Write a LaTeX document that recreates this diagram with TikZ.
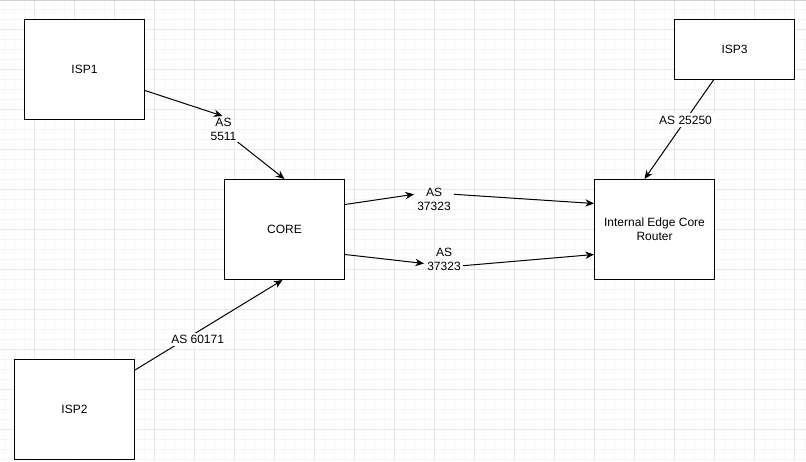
\documentclass[tikz,border=0pt]{standalone}
\usepackage{fontspec}
\setmainfont{Liberation Sans}
\usetikzlibrary{arrows.meta,calc}

\definecolor{gridmajor}{HTML}{E8E8E8}
\definecolor{gridminor}{HTML}{F7F7F7}

\begin{document}
\begin{tikzpicture}[
      x=0.75pt, y=-0.75pt,
      font=\fontsize{9}{10.5}\selectfont,
      box/.style={draw, line width=0.75pt, fill=white, align=center,
        minimum width=90pt, minimum height=75pt, inner sep=2pt},
      smallbox/.style={box, minimum height=45pt},
      aslab/.style={align=center, inner sep=1.5pt},
      edgelab/.style={fill=white, inner sep=2pt},
      arr/.style={-{Stealth[length=6.5pt, width=5.5pt, inset=2pt]}, line width=0.75pt},
    ]
    \useasboundingbox (0,0) rectangle (806,461);
    \fill[white] (0,0) rectangle (806,461);

    % drawing-sheet grid
    \foreach \gx in {4.5,14.5,...,804.5} \draw[gridminor, line width=0.75pt] (\gx,0) -- (\gx,461);
    \foreach \gy in {9.5,19.5,...,459.5} \draw[gridminor, line width=0.75pt] (0,\gy) -- (806,\gy);
    \foreach \gx in {34.5,74.5,...,794.5} \draw[gridmajor, line width=0.75pt] (\gx,0) -- (\gx,461);
    \foreach \gy in {29.5,69.5,...,429.5} \draw[gridmajor, line width=0.75pt] (0,\gy) -- (806,\gy);
    \draw[black!18, line width=0.75pt] (0,0.5) -- (806,0.5);

    \node[box] (isp1) at (84.5,69.5) {ISP1};
    \node[box] (isp2) at (74.5,409.5) {ISP2};
    \node[smallbox] (isp3) at (734.5,49.5) {ISP3};
    \node[box] (core) at (284.5,229.5) {CORE};
    \node[box] (router) at (654.5,229.5) {Internal Edge Core\\Router};

    \node[aslab] (as5511) at (223.5,129.5) {AS\\5511};
    \node[aslab] (asupper) at (434,199.7) {AS\\37323};
    \node[aslab] (aslower) at (444,259) {AS\\37323};

    \draw[arr] ($(isp1.east)+(0,21)$) -- ($(as5511.north)+(-1,0)$);
    \draw[arr] ($(as5511.south east)+(-1,-1)$) -- (core.north);
    \draw[arr] ($(core.east)+(0,-25)$) -- ($(asupper.west)+(-1,-5.4)$);
    \draw[arr] ($(asupper.east)+(1,-5.4)$) -- ($(router.west)+(0,-26)$);
    \draw[arr] ($(core.east)+(0,25)$) -- ($(aslower.west)+(-1,4.5)$);
    \draw[arr] ($(aslower.east)+(0,6.7)$) -- ($(router.west)+(0,25)$);

    \draw[arr] ($(isp3.south)+(-21,0)$) -- node[edgelab, pos=0.405] (as25250) {AS 25250}
      ($(router.north)+(-10,0)$);
    \draw[arr] ($(isp2.east)+(0,-39.5)$) -- node[edgelab, pos=0.339, xshift=9.5pt] (as60171) {AS 60171}
      ($(core.south)+(-2,0)$);
  \end{tikzpicture}
\end{document}
